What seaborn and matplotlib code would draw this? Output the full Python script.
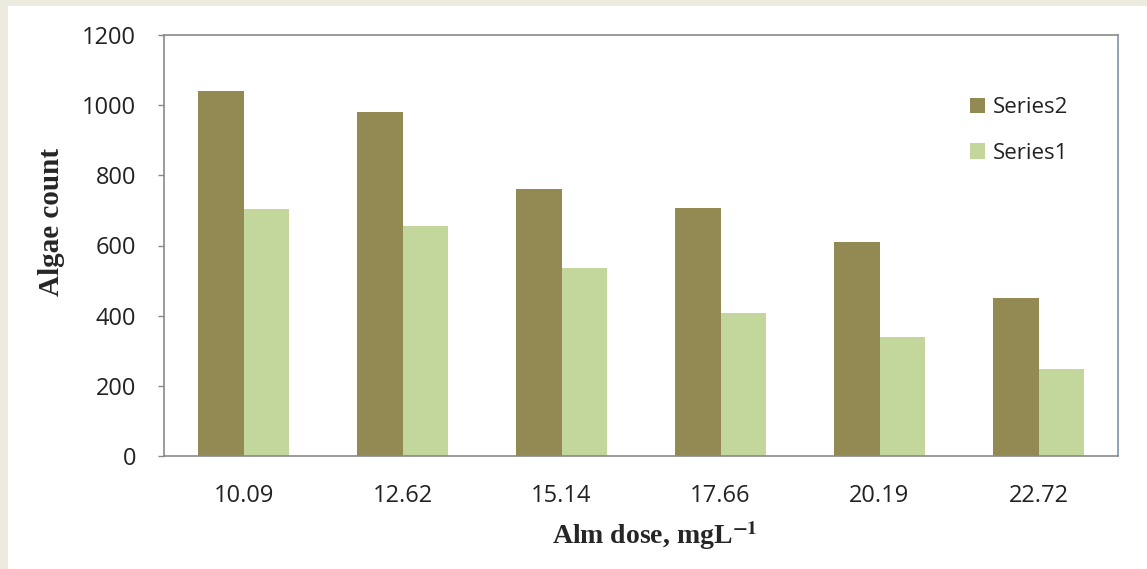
import matplotlib
matplotlib.use("Agg")
import matplotlib.pyplot as plt
import seaborn as sns
import pandas as pd
from matplotlib.patches import Rectangle

doses = ["10.09", "12.62", "15.14", "17.66", "20.19", "22.72"]
series2 = [1040, 980, 761, 707, 610, 450]
series1 = [704, 655, 536, 407, 339, 248]
series_names = ["Series2", "Series1"]
colors = ["#938953", "#C3D69B"]
yticks = [0, 200, 400, 600, 800, 1000, 1200]

df = pd.DataFrame({
    "dose": doses * 2,
    "count": series2 + series1,
    "series": ["Series2"] * len(doses) + ["Series1"] * len(doses),
})

sns.set_theme(style="white")
plt.rcParams["font.family"] = ["Open Sans", "DejaVu Sans"]
plt.rcParams["mathtext.fontset"] = "stix"

fig = plt.figure(figsize=(11.47, 5.69), dpi=100)
fig.patch.set_facecolor("#EDEADF")
fig.add_artist(Rectangle((8 / 1147, 0), 1, (569 - 6) / 569, transform=fig.transFigure,
                         facecolor="white", edgecolor="none", zorder=0))
ax = fig.add_axes([164 / 1147, (569 - 456) / 569, (1118 - 164) / 1147, (456 - 35) / 569])

sns.barplot(data=df, x="dose", y="count", hue="series", hue_order=series_names,
            order=doses, palette=colors, width=0.567, saturation=1, ax=ax,
            edgecolor="none", linewidth=0)

ax.set_ylim(0, 1200)
ax.set_xlim(-0.5, len(doses) - 0.5)
ax.set_yticks(yticks)
ax.set_yticklabels([str(v) for v in yticks])
ax.tick_params(axis="y", which="both", left=True, length=4, width=1, color="#888888",
               labelsize=17, pad=16, labelcolor="#222222")
ax.tick_params(axis="x", bottom=False, labelsize=17, pad=14, labelcolor="#222222")

for s in ["left", "bottom", "top"]:
    ax.spines[s].set_color("#8a8a8a")
    ax.spines[s].set_linewidth(1.2)
ax.spines["right"].set_color("#7b95ab")
ax.spines["right"].set_linewidth(1.2)

ax.set_ylabel("Algae count", fontsize=21, fontweight="bold",
              family=["Liberation Serif", "DejaVu Serif"])
ax.set_xlabel(r"Alm dose, mgL$^{\mathbf{-1}}$", fontsize=20, fontweight="bold",
              family=["Liberation Serif", "DejaVu Serif"], labelpad=8)
ax.yaxis.set_label_coords(-0.104, 0.556)
ax.xaxis.label.set_x(0.5147)

leg = ax.legend(loc="upper left", bbox_to_anchor=(0.833, 0.878), frameon=False,
                fontsize=16, handlelength=0.7, handleheight=0.7, handletextpad=0.35,
                labelspacing=1.1, borderpad=0)
for t in leg.get_texts():
    t.set_color("#222222")

fig.savefig("out.png", dpi=100, facecolor=fig.get_facecolor())
